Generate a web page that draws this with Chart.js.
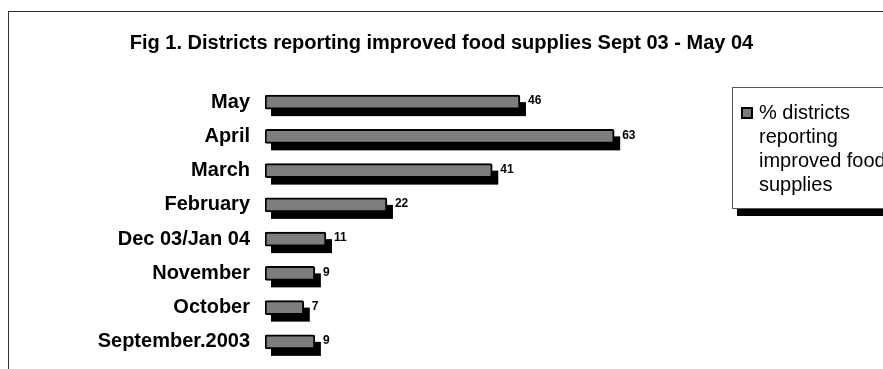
<!DOCTYPE html>
<html>
<head>
<meta charset="utf-8">
<script src="https://cdn.jsdelivr.net/npm/chart.js@4/dist/chart.umd.min.js"></script>
<style>
  html, body { margin: 0; padding: 0; background: #fff; overflow: hidden; }
  canvas { display: block; }
</style>
</head>
<body>
<canvas id="chart" width="883" height="369"></canvas>
<script>
// Horizontal bar chart, Excel-style: grey bars with a hard black drop shadow.
const FONT = "Arial, 'Liberation Sans', sans-serif";

const months = ["May", "April", "March", "February", "Dec 03/Jan 04", "November", "October", "September.2003"];
const pctImproved = [46, 63, 41, 22, 11, 9, 7, 9];
const seriesName = "% districts reporting improved food supplies";
const legendLines = ["% districts", "reporting", "improved food", "supplies"];
const titleText = "Fig 1. Districts reporting improved food supplies Sept 03 - May 04";

// hard-edged shadow under every bar (drawn from the bar elements' own geometry)
const barShadow = {
  id: "barShadow",
  beforeDatasetDraw(chart) {
    const ctx = chart.ctx;
    ctx.save();
    ctx.fillStyle = "#000";
    chart.getDatasetMeta(0).data.forEach((bar) => {
      const h = bar.height;
      ctx.fillRect(bar.base + 6, bar.y - h / 2 + 7, bar.x - bar.base, h);
    });
    ctx.restore();
  },
};

// value labels, the frame and the wrapped legend box
const extras = {
  id: "extras",
  afterDraw(chart) {
    const ctx = chart.ctx;
    ctx.save();

    ctx.strokeStyle = "#333";
    ctx.lineWidth = 1;
    ctx.strokeRect(8.5, 11.5, 1000, 1000);

    ctx.font = "bold 12px " + FONT;
    ctx.fillStyle = "#000";
    ctx.textAlign = "left";
    ctx.textBaseline = "middle";
    chart.getDatasetMeta(0).data.forEach((bar, i) => {
      ctx.fillText(String(pctImproved[i]), bar.x + 8, bar.y - 1);
    });

    // legend
    ctx.fillStyle = "#000";
    ctx.fillRect(737, 94, 200, 122);
    ctx.fillStyle = "#fff";
    ctx.fillRect(732, 87, 200, 121);
    ctx.strokeStyle = "#555";
    ctx.strokeRect(732.5, 87.5, 200, 121);
    ctx.fillStyle = "#7b7b7b";
    ctx.fillRect(741, 107, 12, 12);
    ctx.strokeStyle = "#000";
    ctx.lineWidth = 2;
    ctx.strokeRect(742, 108, 10, 10);
    ctx.font = "20px " + FONT;
    ctx.fillStyle = "#000";
    legendLines.forEach((t, i) => ctx.fillText(t, 759, 113 + i * 24));
    ctx.restore();
  },
};

new Chart(document.getElementById("chart"), {
  type: "bar",
  data: {
    labels: months,
    datasets: [{
      label: seriesName,
      data: pctImproved,
      backgroundColor: "#7d7d7d",
      borderColor: "#000",
      borderWidth: 2,
      borderRadius: 2,
      borderSkipped: false,
      barThickness: 14,
    }],
  },
  options: {
    indexAxis: "y",
    responsive: false,
    animation: false,
    layout: { padding: { left: 0, right: 0, top: 0, bottom: 10 } },
    plugins: {
      legend: { display: false },
      tooltip: { enabled: false },
      title: {
        display: true, text: titleText, color: "#000", fullSize: true,
        font: { family: FONT, size: 20, weight: "bold" },
        padding: { top: 31, bottom: 30 },
      },
    },
    scales: {
      x: { min: 0, max: 111.5, display: false },
      y: {
        grid: { display: false, drawTicks: false },
        border: { display: false },
        ticks: { color: "#000", padding: 15, font: { family: FONT, size: 20, weight: "bold" } },
        afterFit: (s) => { s.width = 265; s.paddingTop = 0; s.paddingBottom = 0; },
      },
    },
  },
  plugins: [barShadow, extras],
});
</script>
</body>
</html>
